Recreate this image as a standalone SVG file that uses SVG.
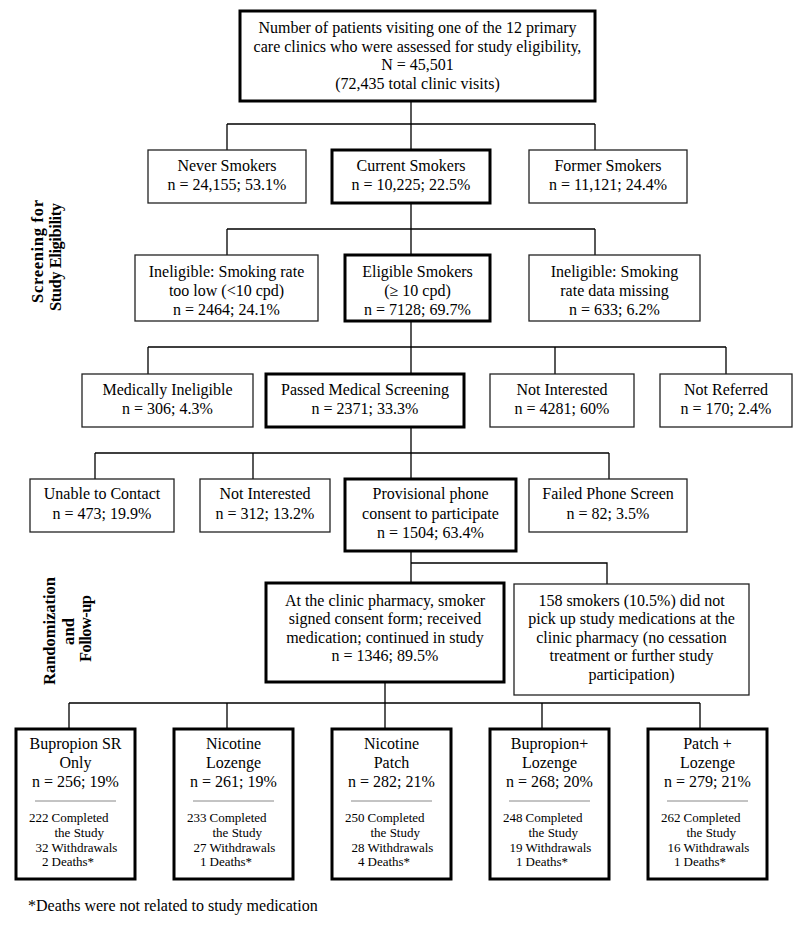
<svg xmlns="http://www.w3.org/2000/svg" width="800" height="930" viewBox="0 0 800 930">
<style>
  text { font-family: "Liberation Serif", "Times New Roman", serif; fill: #000; }
  .t { font-size: 16px; text-anchor: middle; }
  .s { font-size: 13px; }
  .e { text-anchor: end; }
  .lbl { font-size: 16.5px; font-weight: bold; text-anchor: middle; }
  .box { fill: #fff; stroke: #222; stroke-width: 1.3; }
  .thick { fill: #fff; stroke: #000; stroke-width: 3; }
  .sep { stroke: #888; stroke-width: 1; }
  .conn { fill: none; stroke: #000; stroke-width: 1.3; }
</style>
<rect width="800" height="930" fill="#fff"/>

<g id="connectors" class="conn">
  <path d="M411 101 V150 M227 124 H595 M227 124 V150 M595 124 V150"/>
  <path d="M411 203 V255 M227 229 H595 M227 229 V255 M595 229 V255"/>
  <path d="M411 321 V374 M148 347 H726 M148 347 V374 M555 347 V374 M726 347 V374"/>
  <path d="M411 427 V479 M95 453 H609 M95 453 V479 M253 453 V479 M609 453 V479"/>
  <path d="M411 551 V583 M411 563 H607 V584"/>
  <path d="M385 682 V729 M69 703 H700 M69 703 V729 M227 703 V729 M542 703 V729 M700 703 V729"/>
</g>

<g id="label-screening">
  <text class="lbl" transform="translate(42.5 251.5) rotate(-90)" textLength="103" lengthAdjust="spacing">Screening for</text>
  <text class="lbl" transform="translate(60.5 257) rotate(-90)" textLength="108" lengthAdjust="spacing">Study Eligibility</text>
</g>
<g id="label-randomization">
  <text class="lbl" transform="translate(55 631) rotate(-90)" textLength="108" lengthAdjust="spacing">Randomization</text>
  <text class="lbl" transform="translate(73.5 631.5) rotate(-90)" textLength="27" lengthAdjust="spacing">and</text>
  <text class="lbl" transform="translate(91 628.5) rotate(-90)" textLength="67" lengthAdjust="spacing">Follow-up</text>
</g>

<g id="n-total">
  <rect class="thick" x="240" y="11" width="355" height="90"/>
  <text class="t" x="417.5" y="33">Number of patients visiting one of the 12 primary</text>
  <text class="t" x="417.5" y="51.5">care clinics who were assessed for study eligibility,</text>
  <text class="t" x="417.5" y="70">N = 45,501</text>
  <text class="t" x="417.5" y="88.5">(72,435 total clinic visits)</text>
</g>

<g id="n-never">
  <rect class="box" x="148" y="150" width="158" height="53"/>
  <text class="t" x="227" y="171">Never Smokers</text>
  <text class="t" x="227" y="190">n = 24,155; 53.1%</text>
</g>
<g id="n-current">
  <rect class="thick" x="332" y="150" width="158" height="53"/>
  <text class="t" x="411" y="171">Current Smokers</text>
  <text class="t" x="411" y="190">n = 10,225; 22.5%</text>
</g>
<g id="n-former">
  <rect class="box" x="529" y="150" width="158" height="53"/>
  <text class="t" x="608" y="171">Former Smokers</text>
  <text class="t" x="608" y="190">n = 11,121; 24.4%</text>
</g>

<g id="n-inelig-low">
  <rect class="box" x="135" y="255" width="183" height="66"/>
  <text class="t" x="226.5" y="277">Ineligible: Smoking rate</text>
  <text class="t" x="226.5" y="296">too low (&lt;10 cpd)</text>
  <text class="t" x="226.5" y="314.5">n = 2464; 24.1%</text>
</g>
<g id="n-eligible">
  <rect class="thick" x="345" y="255" width="145" height="66"/>
  <text class="t" x="417.5" y="277">Eligible Smokers</text>
  <text class="t" x="417.5" y="296">(≥ 10 cpd)</text>
  <text class="t" x="417.5" y="314.5">n = 7128; 69.7%</text>
</g>
<g id="n-inelig-missing">
  <rect class="box" x="529" y="255" width="171" height="66"/>
  <text class="t" x="614.5" y="277">Ineligible: Smoking</text>
  <text class="t" x="614.5" y="296">rate data missing</text>
  <text class="t" x="614.5" y="314.5">n = 633; 6.2%</text>
</g>

<g id="n-medically">
  <rect class="box" x="82" y="374" width="171" height="53"/>
  <text class="t" x="167.5" y="395">Medically Ineligible</text>
  <text class="t" x="167.5" y="414">n = 306; 4.3%</text>
</g>
<g id="n-passed">
  <rect class="thick" x="266" y="374" width="198" height="53"/>
  <text class="t" x="365" y="395">Passed Medical Screening</text>
  <text class="t" x="365" y="414">n = 2371; 33.3%</text>
</g>
<g id="n-notint1">
  <rect class="box" x="490" y="374" width="144" height="53"/>
  <text class="t" x="562" y="395">Not Interested</text>
  <text class="t" x="562" y="414">n = 4281; 60%</text>
</g>
<g id="n-notref">
  <rect class="box" x="660" y="374" width="132" height="53"/>
  <text class="t" x="726" y="395">Not Referred</text>
  <text class="t" x="726" y="414">n = 170; 2.4%</text>
</g>

<g id="n-unable">
  <rect class="box" x="30" y="479" width="144" height="53"/>
  <text class="t" x="102" y="499">Unable to Contact</text>
  <text class="t" x="102" y="518.5">n = 473; 19.9%</text>
</g>
<g id="n-notint2">
  <rect class="box" x="200" y="479" width="130" height="53"/>
  <text class="t" x="265" y="499">Not Interested</text>
  <text class="t" x="265" y="518.5">n = 312; 13.2%</text>
</g>
<g id="n-provisional">
  <rect class="thick" x="345" y="479" width="171" height="72"/>
  <text class="t" x="430.5" y="499">Provisional phone</text>
  <text class="t" x="430.5" y="518.5">consent to participate</text>
  <text class="t" x="430.5" y="537.5">n = 1504; 63.4%</text>
</g>
<g id="n-failed">
  <rect class="box" x="529" y="479" width="158" height="53"/>
  <text class="t" x="608" y="499">Failed Phone Screen</text>
  <text class="t" x="608" y="518.5">n = 82; 3.5%</text>
</g>

<g id="n-pharmacy">
  <rect class="thick" x="266" y="583" width="238" height="99"/>
  <text class="t" x="385" y="605.5">At the clinic pharmacy, smoker</text>
  <text class="t" x="385" y="624">signed consent form; received</text>
  <text class="t" x="385" y="642.5">medication; continued in study</text>
  <text class="t" x="385" y="661">n = 1346; 89.5%</text>
</g>
<g id="n-nopickup">
  <rect class="box" x="514" y="584" width="235" height="111"/>
  <text class="t" x="631.5" y="605.5">158 smokers (10.5%) did not</text>
  <text class="t" x="631.5" y="624">pick up study medications at the</text>
  <text class="t" x="631.5" y="642.5">clinic pharmacy (no cessation</text>
  <text class="t" x="631.5" y="661">treatment or further study</text>
  <text class="t" x="631.5" y="679.5">participation)</text>
</g>

<g id="n-bupropion">
  <rect class="thick" x="16" y="729" width="119" height="150"/>
  <text class="t" x="75.5" y="749">Bupropion SR</text>
  <text class="t" x="75.5" y="768">Only</text>
  <text class="t" x="75.5" y="787">n = 256; 19%</text>
  <line class="sep" x1="35" y1="801" x2="116" y2="801"/>
  <text class="s e" x="48.5" y="822">222</text><text class="s" x="51.5" y="822">Completed</text>
  <text class="s" x="54.5" y="837">the Study</text>
  <text class="s e" x="48.5" y="851.5">32</text><text class="s" x="51.5" y="851.5">Withdrawals</text>
  <text class="s e" x="48.5" y="866">2</text><text class="s" x="51.5" y="866">Deaths*</text>
</g>
<g id="n-lozenge">
  <rect class="thick" x="174" y="729" width="119" height="150"/>
  <text class="t" x="233.5" y="749">Nicotine</text>
  <text class="t" x="233.5" y="768">Lozenge</text>
  <text class="t" x="233.5" y="787">n = 261; 19%</text>
  <line class="sep" x1="193" y1="801" x2="274" y2="801"/>
  <text class="s e" x="206.5" y="822">233</text><text class="s" x="209.5" y="822">Completed</text>
  <text class="s" x="212.5" y="837">the Study</text>
  <text class="s e" x="206.5" y="851.5">27</text><text class="s" x="209.5" y="851.5">Withdrawals</text>
  <text class="s e" x="206.5" y="866">1</text><text class="s" x="209.5" y="866">Deaths*</text>
</g>
<g id="n-patch">
  <rect class="thick" x="332" y="729" width="119" height="150"/>
  <text class="t" x="391.5" y="749">Nicotine</text>
  <text class="t" x="391.5" y="768">Patch</text>
  <text class="t" x="391.5" y="787">n = 282; 21%</text>
  <line class="sep" x1="351" y1="801" x2="432" y2="801"/>
  <text class="s e" x="364.5" y="822">250</text><text class="s" x="367.5" y="822">Completed</text>
  <text class="s" x="370.5" y="837">the Study</text>
  <text class="s e" x="364.5" y="851.5">28</text><text class="s" x="367.5" y="851.5">Withdrawals</text>
  <text class="s e" x="364.5" y="866">4</text><text class="s" x="367.5" y="866">Deaths*</text>
</g>
<g id="n-bup-lozenge">
  <rect class="thick" x="490" y="729" width="119" height="150"/>
  <text class="t" x="549.5" y="749">Bupropion+</text>
  <text class="t" x="549.5" y="768">Lozenge</text>
  <text class="t" x="549.5" y="787">n = 268; 20%</text>
  <line class="sep" x1="509" y1="801" x2="590" y2="801"/>
  <text class="s e" x="522.5" y="822">248</text><text class="s" x="525.5" y="822">Completed</text>
  <text class="s" x="528.5" y="837">the Study</text>
  <text class="s e" x="522.5" y="851.5">19</text><text class="s" x="525.5" y="851.5">Withdrawals</text>
  <text class="s e" x="522.5" y="866">1</text><text class="s" x="525.5" y="866">Deaths*</text>
</g>
<g id="n-patch-lozenge">
  <rect class="thick" x="648" y="729" width="119" height="150"/>
  <text class="t" x="707.5" y="749">Patch +</text>
  <text class="t" x="707.5" y="768">Lozenge</text>
  <text class="t" x="707.5" y="787">n = 279; 21%</text>
  <line class="sep" x1="667" y1="801" x2="748" y2="801"/>
  <text class="s e" x="680.5" y="822">262</text><text class="s" x="683.5" y="822">Completed</text>
  <text class="s" x="686.5" y="837">the Study</text>
  <text class="s e" x="680.5" y="851.5">16</text><text class="s" x="683.5" y="851.5">Withdrawals</text>
  <text class="s e" x="680.5" y="866">1</text><text class="s" x="683.5" y="866">Deaths*</text>
</g>

<g id="footnote">
  <text x="28" y="911" style="font-size:16px">*Deaths were not related to study medication</text>
</g>
</svg>
